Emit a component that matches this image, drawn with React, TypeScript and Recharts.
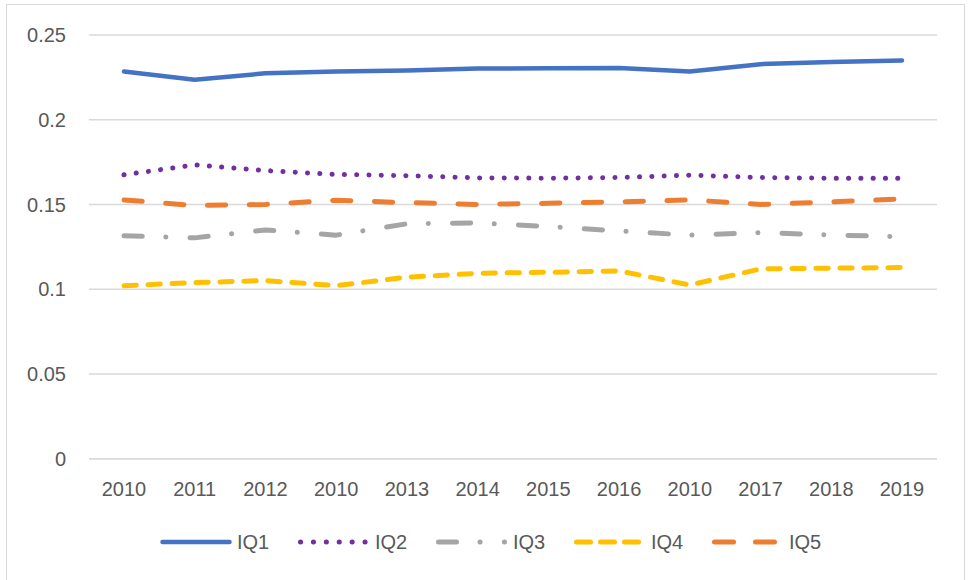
import React from 'react';
import { LineChart, Line, XAxis, YAxis, CartesianGrid, Legend } from 'recharts';

const categories = ['2010', '2011', '2012', '2010', '2013', '2014', '2015', '2016', '2010', '2017', '2018', '2019'];
const iq1 = [0.2285, 0.2236, 0.2274, 0.2285, 0.229, 0.2302, 0.2304, 0.2306, 0.2285, 0.2328, 0.234, 0.235];
const iq2 = [0.1675, 0.1734, 0.17, 0.1677, 0.167, 0.1657, 0.1655, 0.1659, 0.1673, 0.1659, 0.1655, 0.1655];
const iq3 = [0.1315, 0.1303, 0.135, 0.1319, 0.1386, 0.1391, 0.137, 0.1344, 0.1319, 0.1334, 0.132, 0.131];
const iq4 = [0.1021, 0.1039, 0.1051, 0.1021, 0.1071, 0.1094, 0.11, 0.1108, 0.1025, 0.112, 0.1124, 0.1128];
const iq5 = [0.1527, 0.1494, 0.15, 0.1525, 0.1511, 0.15, 0.1507, 0.1515, 0.1527, 0.15, 0.1515, 0.1533];
const yTicks = [0, 0.05, 0.1, 0.15, 0.2, 0.25];

const seriesNames = ['IQ1', 'IQ2', 'IQ3', 'IQ4', 'IQ5'];
const seriesValues = [iq1, iq2, iq3, iq4, iq5];

const styles = [
  { color: '#4472C4', dash: undefined as string | undefined, width: 4.5, legendDash: undefined as string | undefined },
  { color: '#7030A0', dash: '0.1 12.2', width: 5, legendDash: '0.1 12.8' },
  { color: '#A5A5A5', dash: '18.3 23.5 0.1 24.1', width: 5, legendDash: '18 23.5 0.1 24.3 0.1 100' },
  { color: '#FFC000', dash: '12.3 11.7', width: 5, legendDash: '14 10' },
  { color: '#ED7D31', dash: '18.3 23.5', width: 5, legendDash: '19 22' },
];

const data = categories.map((c, i) => {
  const row: Record<string, number | string> = { idx: i, label: c };
  seriesNames.forEach((n, k) => {
    row[n] = seriesValues[k][i];
  });
  return row;
});

const FONT = '"Liberation Sans", Arial, sans-serif';
const TEXT = '#595959';

const LegendContent = () => {
  const startX = 160;
  const stride = 138;
  const sampleW = 67;
  return (
    <svg width={969} height={30} style={{ display: 'block' }}>
      {seriesNames.map((n, k) => {
        const x0 = startX + stride * k + 2.5;
        const s = styles[k];
        return (
          <g key={n}>
            <line
              x1={x0}
              x2={x0 + sampleW}
              y1={15}
              y2={15}
              stroke={s.color}
              strokeWidth={s.width}
              strokeLinecap="round"
              strokeDasharray={s.legendDash}
            />
            <text x={x0 + sampleW + 7.5} y={15} dy="0.355em" fontSize={20} fill={TEXT} fontFamily={FONT}>
              {n}
            </text>
          </g>
        );
      })}
    </svg>
  );
};

export default function App() {
  return (
    <div style={{ position: 'absolute', left: 0, top: 0, width: 969, height: 580, background: '#fff' }}>
      <div
        style={{
          position: 'absolute',
          left: 6,
          top: 4,
          width: 959,
          height: 590,
          border: '1.5px solid #D9D9D9',
          boxSizing: 'border-box',
        }}
      />
      <LineChart
        width={969}
        height={580}
        data={data}
        margin={{ top: 35, right: 32, left: 0, bottom: 23 }}
        style={{ fontFamily: FONT }}
      >
        <CartesianGrid vertical={false} stroke="#D9D9D9" strokeWidth={1.5} />
        <XAxis
          dataKey="idx"
          type="category"
          height={68.3}
          interval={0}
          tickFormatter={(v: number) => categories[v]}
          padding={{ left: 35, right: 35 }}
          tickLine={false}
          tickSize={0}
          tickMargin={23}
          axisLine={{ stroke: '#D9D9D9', strokeWidth: 1.5 }}
          tick={{ fontSize: 20, fill: TEXT, fontFamily: FONT }}
        />
        <YAxis
          width={89}
          domain={[0, 0.25]}
          ticks={yTicks}
          interval={0}
          axisLine={false}
          tickLine={false}
          tickSize={0}
          tickMargin={23}
          tick={{ fontSize: 20, fill: TEXT, fontFamily: FONT }}
        />
        <Legend
          verticalAlign="bottom"
          content={() => <LegendContent />}
          wrapperStyle={{ height: 30, width: 969, left: 0 }}
        />
        {seriesNames.map((n, k) => (
          <Line
            key={n}
            type="linear"
            dataKey={n}
            stroke={styles[k].color}
            strokeWidth={styles[k].width}
            strokeDasharray={styles[k].dash}
            strokeLinecap="round"
            strokeLinejoin="round"
            dot={false}
            activeDot={false}
            isAnimationActive={false}
          />
        ))}
      </LineChart>
    </div>
  );
}
